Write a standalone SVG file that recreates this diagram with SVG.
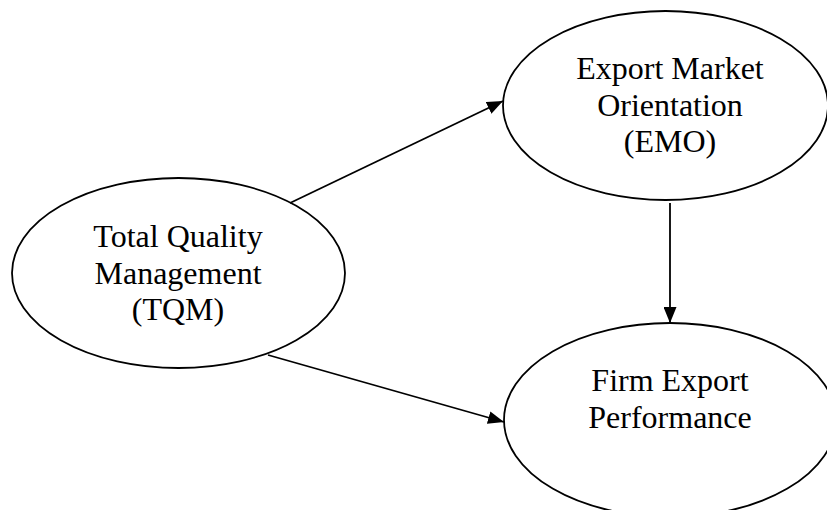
<svg xmlns="http://www.w3.org/2000/svg" width="827" height="510" viewBox="0 0 827 510">
<style>
.node ellipse{fill:#fff;stroke:#000;stroke-width:1.8}
.node text{font-family:"Liberation Serif","Times New Roman",serif;font-size:32px;fill:#000;text-anchor:middle}
.conn line{stroke:#000;stroke-width:1.8}
</style>
<defs>
<marker id="arr" viewBox="0 0 16 13" refX="16" refY="6.5" markerWidth="16" markerHeight="13" markerUnits="userSpaceOnUse" orient="auto">
<path d="M0,0 L16,6.5 L0,13 Z" fill="#000"/>
</marker>
</defs>
<rect width="827" height="510" fill="#fff"/>
<g id="tqm" class="node">
<ellipse cx="178.5" cy="273" rx="166.5" ry="95"/>
<text x="178" y="247">Total Quality</text>
<text x="178" y="283.5">Management</text>
<text x="178" y="320">(TQM)</text>
</g>
<g id="emo" class="node">
<ellipse cx="665.5" cy="105.5" rx="162.5" ry="94.5"/>
<text x="670" y="79">Export Market</text>
<text x="670" y="116">Orientation</text>
<text x="670" y="152">(EMO)</text>
</g>
<g id="fep" class="node">
<ellipse cx="670" cy="420" rx="166" ry="97"/>
<text x="670" y="391">Firm Export</text>
<text x="670" y="428">Performance</text>
</g>
<g id="connectors" class="conn">
<line x1="290" y1="203" x2="503" y2="101" marker-end="url(#arr)"/>
<line x1="268" y1="355" x2="504" y2="422" marker-end="url(#arr)"/>
<line x1="670" y1="203" x2="670" y2="323" marker-end="url(#arr)"/>
</g>
</svg>
